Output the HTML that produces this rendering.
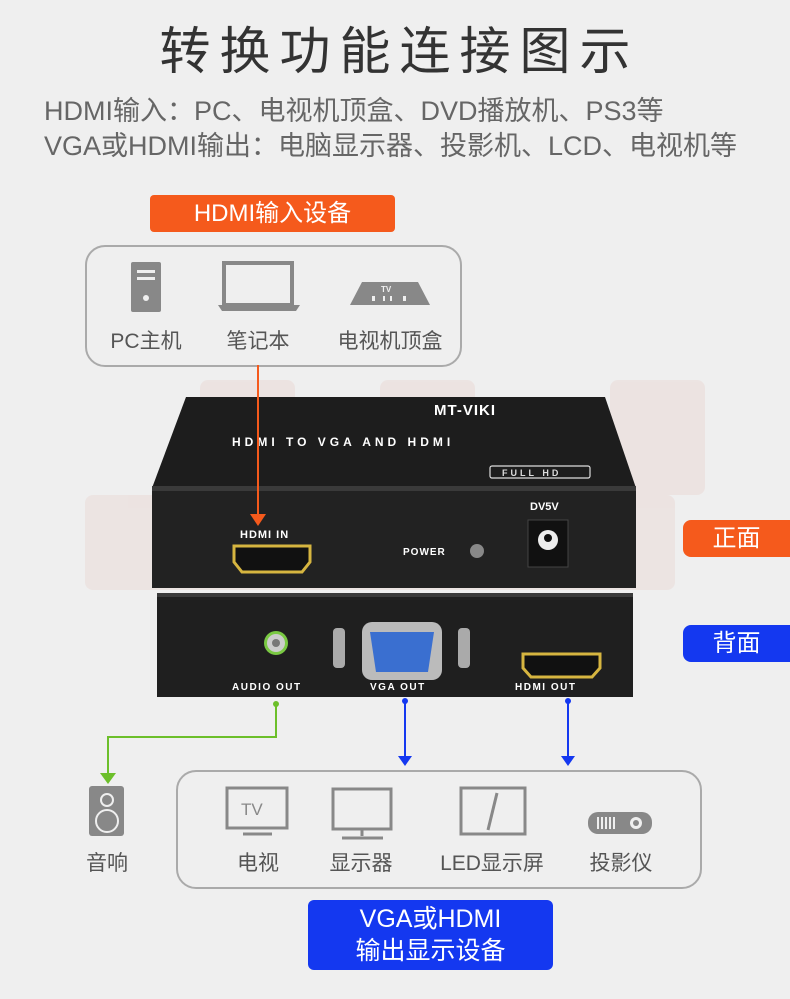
<!DOCTYPE html>
<html><head><meta charset="utf-8"><style>
body{margin:0;width:790px;height:999px;background:#efefef;overflow:hidden;position:relative;font-family:"Liberation Sans","Noto Sans CJK SC",sans-serif}
.a{position:absolute}
</style></head><body>
<div class="a" style="left:0;top:10px;width:790px;text-align:center;font-size:51px;color:#333;letter-spacing:9px;text-indent:9px">转换功能连接图示</div>
<div class="a" style="left:44px;top:89px;font-size:27px;color:#666;white-space:nowrap">HDMI输入：PC、电视机顶盒、DVD播放机、PS3等</div>
<div class="a" style="left:44px;top:124px;font-size:27px;color:#666;white-space:nowrap">VGA或HDMI输出：电脑显示器、投影机、LCD、电视机等</div>
<div class="a" style="left:150px;top:195px;width:245px;height:37px;background:#f55a1c;border-radius:4px;color:#fff;font-size:24px;text-align:center;line-height:37px">HDMI输入设备</div>
<div class="a" style="left:85px;top:245px;width:373px;height:118px;border:2px solid #aaa;border-radius:20px"></div>
<div class="a" style="left:176px;top:770px;width:522px;height:115px;border:2px solid #aaa;border-radius:20px"></div>
<div class="a" style="left:683px;top:520px;width:107px;height:37px;background:#f55a1c;border-radius:8px 0 0 8px;color:#fff;font-size:24px;line-height:37px;text-align:center">正面</div>
<div class="a" style="left:683px;top:625px;width:107px;height:37px;background:#1438f0;border-radius:8px 0 0 8px;color:#fff;font-size:24px;line-height:37px;text-align:center">背面</div>
<div class="a" style="left:308px;top:900px;width:245px;height:70px;background:#1438f0;border-radius:6px;color:#fff;font-size:25px;line-height:32px;text-align:center;padding-top:3px;box-sizing:border-box">VGA或HDMI<br>输出显示设备</div>
<svg class="a" style="left:0;top:0" width="790" height="999">
<g fill="#e9d6d2" opacity="0.45">
<rect x="200" y="380" width="95" height="115" rx="8"/><rect x="380" y="380" width="95" height="115" rx="8"/><rect x="610" y="380" width="95" height="115" rx="8"/>
<rect x="85" y="495" width="590" height="95" rx="8"/>
</g>
<polygon points="186,397 605,397 636,488 152,488" fill="#1d1d1d"/>
<rect x="152" y="488" width="484" height="100" fill="#222"/>
<rect x="152" y="486" width="484" height="5" fill="#3a3a3a"/>
<rect x="157" y="593" width="476" height="104" fill="#1f1f1f"/>
<rect x="157" y="593" width="476" height="4" fill="#3a3a3a"/>
<g fill="#fff" font-family="Liberation Sans" font-weight="bold">
<text x="434" y="415" font-size="15" letter-spacing="1">MT-VIKI</text>
<text x="232" y="446" font-size="12" letter-spacing="4">HDMI TO VGA AND HDMI</text>
<text x="240" y="538" font-size="11" letter-spacing="1">HDMI IN</text>
<text x="403" y="555" font-size="10" letter-spacing="1">POWER</text>
<text x="530" y="510" font-size="11">DV5V</text>
<text x="232" y="690" font-size="10" letter-spacing="1.5">AUDIO OUT</text>
<text x="370" y="690" font-size="10" letter-spacing="1.5">VGA OUT</text>
<text x="515" y="690" font-size="10" letter-spacing="1.5">HDMI OUT</text>
</g>
<rect x="490" y="466" width="100" height="12" rx="2" fill="none" stroke="#ddd" stroke-width="1.2"/>
<text x="502" y="476" font-size="9" fill="#ddd" font-family="Liberation Sans" font-weight="bold" letter-spacing="3">FULL HD</text>
<polygon points="234,546 310,546 310,562 302,572 242,572 234,562" fill="#111" stroke="#d6b540" stroke-width="3"/>
<circle cx="477" cy="551" r="7" fill="#888"/>
<rect x="528" y="520" width="40" height="47" fill="#111" stroke="#444"/>
<circle cx="548" cy="540" r="10" fill="#eee"/><circle cx="548" cy="538" r="4" fill="#111"/>
<circle cx="276" cy="643" r="12" fill="#7ac943"/><circle cx="276" cy="643" r="9" fill="#ccc"/><circle cx="276" cy="643" r="4" fill="#777"/>
<rect x="362" y="622" width="80" height="58" rx="10" fill="#bbb"/>
<polygon points="370,632 434,632 428,672 376,672" fill="#3a6fd0"/>
<rect x="333" y="628" width="12" height="40" rx="4" fill="#aaa"/><rect x="458" y="628" width="12" height="40" rx="4" fill="#aaa"/>
<polygon points="523,654 600,654 600,668 592,677 531,677 523,668" fill="#111" stroke="#d6b540" stroke-width="3"/>
<g fill="none" stroke-width="2">
<path d="M258 365V516" stroke="#f55a1c"/>
<path d="M276 705V737H108V776" stroke="#6cbf2a"/>
<path d="M405 700V758M568 700V758" stroke="#1438f0"/>
</g>
<polygon points="250,514 266,514 258,526" fill="#f55a1c"/>
<polygon points="100,773 116,773 108,784" fill="#6cbf2a"/>
<polygon points="398,756 412,756 405,766" fill="#1438f0"/><polygon points="561,756 575,756 568,766" fill="#1438f0"/>
<circle cx="276" cy="704" r="3" fill="#6cbf2a"/><circle cx="405" cy="701" r="3" fill="#1438f0"/><circle cx="568" cy="701" r="3" fill="#1438f0"/>
<g fill="#888">
<rect x="131" y="262" width="30" height="50" rx="2"/>
<rect x="224" y="263" width="68" height="42" fill="none" stroke="#888" stroke-width="4"/>
<polygon points="218,305 300,305 296,311 222,311"/>
<polygon points="362,282 418,282 430,305 350,305"/>
</g>
<g fill="#efefef"><rect x="137" y="270" width="18" height="3"/><rect x="137" y="277" width="18" height="3"/><circle cx="146" cy="298" r="3"/>
<rect x="372" y="296" width="3" height="5"/><rect x="383" y="296" width="2" height="5"/><rect x="390" y="296" width="2" height="5"/><rect x="403" y="296" width="3" height="5"/></g>
<text x="381" y="292" font-size="8" fill="#efefef" font-family="Liberation Sans" font-weight="bold">TV</text>
<g fill="none" stroke="#888" stroke-width="3">
<rect x="227" y="788" width="60" height="40"/><path d="M243 834H272"/>
<rect x="333" y="789" width="58" height="40"/><path d="M362 829V836M342 838H383"/>
<rect x="461" y="788" width="64" height="46"/><path d="M497 793L488 830"/>
</g>
<rect x="89" y="786" width="35" height="50" rx="3" fill="#888"/>
<g fill="none" stroke="#efefef" stroke-width="2"><circle cx="107" cy="800" r="6"/><circle cx="107" cy="821" r="11"/></g>
<text x="241" y="815" font-size="17" fill="#888" font-family="Liberation Sans">TV</text>
<rect x="588" y="812" width="64" height="22" rx="10" fill="#888"/><circle cx="636" cy="823" r="6" fill="#efefef"/><circle cx="636" cy="823" r="3" fill="#888"/>
<g fill="#efefef"><rect x="597" y="817" width="2" height="12"/><rect x="601" y="817" width="2" height="12"/><rect x="605" y="817" width="2" height="12"/><rect x="609" y="817" width="2" height="12"/><rect x="613" y="817" width="2" height="12"/></g>
</svg>
<div class="a" style="left:96px;top:325px;width:100px;text-align:center;font-size:21px;color:#555">PC主机</div>
<div class="a" style="left:208px;top:325px;width:100px;text-align:center;font-size:21px;color:#555">笔记本</div>
<div class="a" style="left:320px;top:325px;width:140px;text-align:center;font-size:21px;color:#555">电视机顶盒</div>
<div class="a" style="left:57px;top:847px;width:100px;text-align:center;font-size:21px;color:#555">音响</div>
<div class="a" style="left:208px;top:847px;width:100px;text-align:center;font-size:21px;color:#555">电视</div>
<div class="a" style="left:311px;top:847px;width:100px;text-align:center;font-size:21px;color:#555">显示器</div>
<div class="a" style="left:422px;top:847px;width:140px;text-align:center;font-size:21px;color:#555">LED显示屏</div>
<div class="a" style="left:571px;top:847px;width:100px;text-align:center;font-size:21px;color:#555">投影仪</div>
</body></html>
